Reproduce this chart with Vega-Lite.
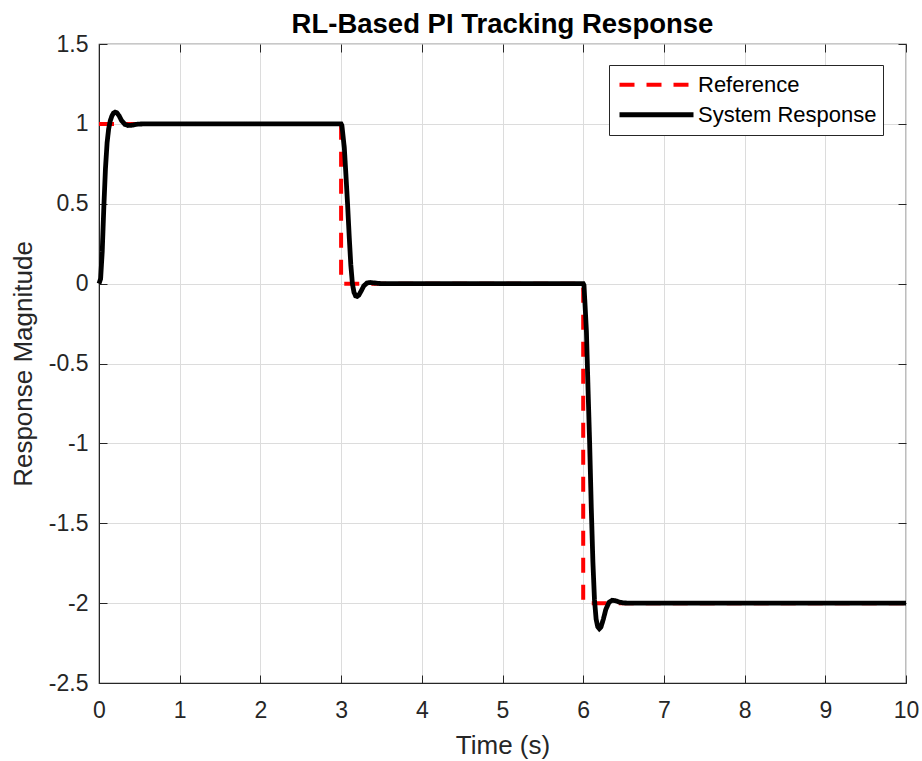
{
  "$schema": "https://vega.github.io/schema/vega-lite/v6.json",
  "width": 807,
  "height": 639,
  "autosize": {"type": "none"},
  "padding": {"left": 99, "top": 44, "right": 16, "bottom": 78},
  "background": "white",
  "title": {"text": "RL-Based PI Tracking Response", "font": "Liberation Sans", "fontSize": 27.5, "fontWeight": "bold", "color": "#000000", "anchor": "middle", "offset": -5},
  "config": {
    "view": {"stroke": "#262626", "strokeWidth": 1.2},
    "axis": {"labelFont": "Liberation Sans", "titleFont": "Liberation Sans", "labelColor": "#262626", "titleColor": "#262626", "titleFontWeight": "normal", "domainColor": "#262626", "tickColor": "#262626", "gridColor": "#dcdcdc", "gridWidth": 1, "labelFlush": false, "labelOverlap": false}
  },
  "data": {"values": [
    {"s": "Reference", "i": 0, "t": 0, "y": 1},
    {"s": "Reference", "i": 1, "t": 3, "y": 1},
    {"s": "Reference", "i": 2, "t": 3, "y": 0},
    {"s": "Reference", "i": 3, "t": 6, "y": 0},
    {"s": "Reference", "i": 4, "t": 6, "y": -2},
    {"s": "Reference", "i": 5, "t": 10, "y": -2},
    {"s": "System Response", "i": 0, "t": 0, "y": 0},
    {"s": "System Response", "i": 1, "t": 0.02, "y": 0.03},
    {"s": "System Response", "i": 2, "t": 0.04, "y": 0.2},
    {"s": "System Response", "i": 3, "t": 0.06, "y": 0.48},
    {"s": "System Response", "i": 4, "t": 0.08, "y": 0.72},
    {"s": "System Response", "i": 5, "t": 0.1, "y": 0.88},
    {"s": "System Response", "i": 6, "t": 0.12, "y": 0.97},
    {"s": "System Response", "i": 7, "t": 0.14, "y": 1.02},
    {"s": "System Response", "i": 8, "t": 0.16, "y": 1.05},
    {"s": "System Response", "i": 9, "t": 0.18, "y": 1.068},
    {"s": "System Response", "i": 10, "t": 0.2, "y": 1.074},
    {"s": "System Response", "i": 11, "t": 0.22, "y": 1.07},
    {"s": "System Response", "i": 12, "t": 0.25, "y": 1.05},
    {"s": "System Response", "i": 13, "t": 0.28, "y": 1.02},
    {"s": "System Response", "i": 14, "t": 0.32, "y": 0.997},
    {"s": "System Response", "i": 15, "t": 0.36, "y": 0.99},
    {"s": "System Response", "i": 16, "t": 0.4, "y": 0.991},
    {"s": "System Response", "i": 17, "t": 0.45, "y": 0.996},
    {"s": "System Response", "i": 18, "t": 0.5, "y": 0.999},
    {"s": "System Response", "i": 19, "t": 0.6, "y": 1},
    {"s": "System Response", "i": 20, "t": 3.0, "y": 1},
    {"s": "System Response", "i": 21, "t": 3.01, "y": 0.99},
    {"s": "System Response", "i": 22, "t": 3.04, "y": 0.85},
    {"s": "System Response", "i": 23, "t": 3.06, "y": 0.68},
    {"s": "System Response", "i": 24, "t": 3.08, "y": 0.5},
    {"s": "System Response", "i": 25, "t": 3.1, "y": 0.3},
    {"s": "System Response", "i": 26, "t": 3.12, "y": 0.12},
    {"s": "System Response", "i": 27, "t": 3.14, "y": 0.0},
    {"s": "System Response", "i": 28, "t": 3.16, "y": -0.055},
    {"s": "System Response", "i": 29, "t": 3.18, "y": -0.077},
    {"s": "System Response", "i": 30, "t": 3.2, "y": -0.08},
    {"s": "System Response", "i": 31, "t": 3.22, "y": -0.072},
    {"s": "System Response", "i": 32, "t": 3.25, "y": -0.045},
    {"s": "System Response", "i": 33, "t": 3.28, "y": -0.015},
    {"s": "System Response", "i": 34, "t": 3.32, "y": 0.004},
    {"s": "System Response", "i": 35, "t": 3.36, "y": 0.007},
    {"s": "System Response", "i": 36, "t": 3.4, "y": 0.005},
    {"s": "System Response", "i": 37, "t": 3.45, "y": 0.002},
    {"s": "System Response", "i": 38, "t": 3.5, "y": 0},
    {"s": "System Response", "i": 39, "t": 6.0, "y": 0},
    {"s": "System Response", "i": 40, "t": 6.01, "y": -0.01},
    {"s": "System Response", "i": 41, "t": 6.04, "y": -0.3},
    {"s": "System Response", "i": 42, "t": 6.06, "y": -0.66},
    {"s": "System Response", "i": 43, "t": 6.08, "y": -1.0},
    {"s": "System Response", "i": 44, "t": 6.1, "y": -1.4},
    {"s": "System Response", "i": 45, "t": 6.12, "y": -1.74},
    {"s": "System Response", "i": 46, "t": 6.14, "y": -1.98},
    {"s": "System Response", "i": 47, "t": 6.16, "y": -2.1},
    {"s": "System Response", "i": 48, "t": 6.18, "y": -2.148},
    {"s": "System Response", "i": 49, "t": 6.2, "y": -2.16},
    {"s": "System Response", "i": 50, "t": 6.22, "y": -2.15},
    {"s": "System Response", "i": 51, "t": 6.25, "y": -2.1},
    {"s": "System Response", "i": 52, "t": 6.28, "y": -2.04},
    {"s": "System Response", "i": 53, "t": 6.32, "y": -1.995},
    {"s": "System Response", "i": 54, "t": 6.36, "y": -1.982},
    {"s": "System Response", "i": 55, "t": 6.4, "y": -1.985},
    {"s": "System Response", "i": 56, "t": 6.45, "y": -1.994},
    {"s": "System Response", "i": 57, "t": 6.5, "y": -1.999},
    {"s": "System Response", "i": 58, "t": 6.6, "y": -2},
    {"s": "System Response", "i": 59, "t": 10, "y": -2}
  ]},
  "layer": [
    {
      "mark": {"type": "line", "strokeCap": "butt", "strokeJoin": "miter"},
      "encoding": {
        "x": {"field": "t", "type": "quantitative", "scale": {"domain": [0, 10], "nice": false, "zero": false},
              "axis": {"orient": "bottom", "values": [0,1,2,3,4,5,6,7,8,9,10], "grid": true, "tickSize": -8, "labelPadding": 24, "labelFontSize": 23, "labelExpr": "datum.value < 0 ? '-' + format(-datum.value, '') : format(datum.value, '')", "title": "Time (s)", "titleFontSize": 26, "titlePadding": 10}},
        "y": {"field": "y", "type": "quantitative", "scale": {"domain": [-2.5, 1.5], "nice": false, "zero": false},
              "axis": {"orient": "left", "values": [-2.5,-2,-1.5,-1,-0.5,0,0.5,1,1.5], "grid": true, "tickSize": -8, "labelPadding": 19, "labelFontSize": 23, "labelExpr": "datum.value < 0 ? '-' + format(-datum.value, '') : format(datum.value, '')", "title": "Response Magnitude", "titleFontSize": 26, "titlePadding": 12}},
        "color": {"field": "s", "type": "nominal", "scale": {"domain": ["Reference", "System Response"], "range": ["#ff0000", "#000000"]},
                  "legend": {"title": null, "orient": "none", "legendX": 510, "legendY": 21, "strokeColor": "#262626", "fillColor": "#ffffff", "padding": 6, "symbolOffset": 2, "symbolType": "stroke", "symbolSize": 5476, "symbolStrokeWidth": 4, "labelFont": "Liberation Sans", "labelFontSize": 22, "labelColor": "#000000", "labelOffset": 2, "clipHeight": 27.5, "rowPadding": 2, "labelLimit": 300}},
        "strokeDash": {"field": "s", "type": "nominal", "scale": {"domain": ["Reference", "System Response"], "range": [[15, 12], [1, 0]]},
                  "legend": {"title": null, "orient": "none", "legendX": 510, "legendY": 21, "strokeColor": "#262626", "fillColor": "#ffffff", "padding": 6, "symbolOffset": 2, "symbolType": "stroke", "symbolSize": 5476, "symbolStrokeWidth": 4, "labelFont": "Liberation Sans", "labelFontSize": 22, "labelColor": "#000000", "labelOffset": 2, "clipHeight": 27.5, "rowPadding": 2, "labelLimit": 300}},
        "strokeWidth": {"field": "s", "type": "nominal", "scale": {"domain": ["Reference", "System Response"], "range": [4, 4.8]}, "legend": null},
        "order": {"field": "i", "type": "quantitative"}
      }
    },
    {
      "mark": {"type": "point", "opacity": 0},
      "encoding": {
        "x": {"field": "t", "type": "quantitative", "axis": {"orient": "top", "values": [0,1,2,3,4,5,6,7,8,9,10], "labels": false, "grid": false, "tickSize": -8, "title": null, "domain": false}},
        "y": {"field": "y", "type": "quantitative", "axis": {"orient": "right", "values": [-2.5,-2,-1.5,-1,-0.5,0,0.5,1,1.5], "labels": false, "grid": false, "tickSize": -8, "title": null, "domain": false}}
      }
    }
  ],
  "resolve": {"axis": {"x": "independent", "y": "independent"}}
}
